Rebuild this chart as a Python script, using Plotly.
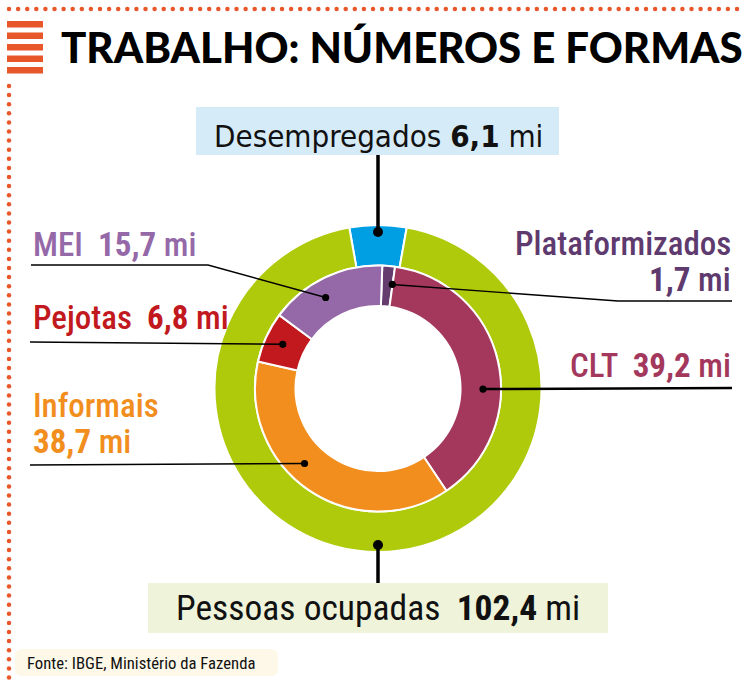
import math
import numpy as np
import plotly.graph_objects as go

# ---------------- data ----------------
outer_labels = ["Desempregados", "Pessoas ocupadas"]
outer_values = [6.1, 102.4]
outer_colors = ["#009FE3", "#AFCA0B"]

inner_labels = ["Plataformizados", "CLT", "Informais", "Pejotas", "MEI"]
inner_values = [1.7, 39.2, 38.7, 6.8, 15.7]
inner_colors = ["#643C6E", "#A3385C", "#F18E1E", "#C1191E", "#9569A8"]
inner_text_colors = ["#5E3A6E", "#A3385C", "#F18E1E", "#C1191E", "#9569A8"]

title_text = "TRABALHO: NÚMEROS E FORMAS"
source_text = "Fonte: IBGE, Ministério da Fazenda"
unit = "mi"

# ---------------- layout geometry (pixels) ----------------
W, H = 748, 682
CX, CY = 378, 388.5
R_OUT, R_MID, R_IN = 163.5, 123, 82.5
ORANGE = "#E8572A"
RC = "Roboto Condensed, DejaVu Sans Condensed, sans-serif"
DC = "DejaVu Sans Condensed, Roboto Condensed, sans-serif"


def fmt(v):
    return f"{v:.1f}".replace(".", ",")


def polar(r, ang):
    a = math.radians(ang)
    return CX + r * math.sin(a), CY - r * math.cos(a)


def dom(r):
    return dict(x=[(CX - r) / W, (CX + r) / W], y=[1 - (CY + r) / H, 1 - (CY - r) / H])


fig = go.Figure()

# outer ring: first slice centred at 12 o'clock
outer_rot = -outer_values[0] / sum(outer_values) * 360 / 2
fig.add_trace(go.Pie(
    values=outer_values, labels=outer_labels, sort=False, direction="clockwise",
    rotation=outer_rot, hole=R_MID / R_OUT, domain=dom(R_OUT),
    marker=dict(colors=outer_colors, line=dict(color="white", width=2)),
    textinfo="none", hoverinfo="label+value", showlegend=False))

fig.add_trace(go.Pie(
    values=inner_values, labels=inner_labels, sort=False, direction="clockwise",
    rotation=2, hole=R_IN / R_MID, domain=dom(R_MID),
    marker=dict(colors=inner_colors, line=dict(color="white", width=2)),
    textinfo="none", hoverinfo="label+value", showlegend=False))

shapes = []
annotations = []

# dotted orange frame
top_x = np.arange(9, 742, 9.1)
left_y = np.arange(86, 680, 9.1)
fig.add_trace(go.Scatter(x=top_x, y=[9] * len(top_x), mode="markers",
                         marker=dict(color=ORANGE, size=4.5, symbol="circle"),
                         hoverinfo="skip", showlegend=False))
fig.add_trace(go.Scatter(x=[9] * len(left_y), y=left_y, mode="markers",
                         marker=dict(color=ORANGE, size=4.5, symbol="circle"),
                         hoverinfo="skip", showlegend=False))

# title icon bars
for y0 in [21, 32.5, 44, 55.5, 67]:
    shapes.append(dict(type="rect", x0=7, x1=43, y0=y0, y1=y0 + 6.5,
                       fillcolor=ORANGE, line=dict(width=0), layer="above"))

annotations.append(dict(x=59, y=47, text=title_text, showarrow=False,
                        xanchor="left", yanchor="middle",
                        font=dict(family="Lato, DejaVu Sans", size=42, weight=900, color="#000")))

# boxes
shapes.append(dict(type="rect", x0=196, x1=559, y0=107, y1=155,
                   fillcolor="#D6EBF8", line=dict(width=0), layer="below"))
shapes.append(dict(type="rect", x0=148, x1=608, y0=583, y1=633,
                   fillcolor="#EEF3DA", line=dict(width=0), layer="below"))
shapes.append(dict(type="path",
                   path="M 22 649 L 271 649 Q 278 649 278 656 L 278 669 Q 278 676 271 676 "
                        "L 22 676 Q 15 676 15 669 L 15 656 Q 15 649 22 649 Z",
                   fillcolor="#FDF8E8", line=dict(width=0), layer="below"))

# outer labels
annotations.append(dict(x=CX, y=136, text=f"{outer_labels[0]} <b>{fmt(outer_values[0])}</b> {unit}",
                        showarrow=False, xanchor="center", yanchor="middle",
                        font=dict(family=DC, size=31, color="#111")))
annotations.append(dict(x=CX, y=607.5, text=f"{outer_labels[1]}  <b>{fmt(outer_values[1])}</b> {unit}",
                        showarrow=False, xanchor="center", yanchor="middle",
                        font=dict(family=RC, size=35.5, color="#111")))
annotations.append(dict(x=25, y=663, text=source_text, showarrow=False,
                        xanchor="left", yanchor="middle",
                        font=dict(family=RC, size=16.7, color="#111")))

# outer connectors (midpoints of outer slices)
cum = np.cumsum([0] + outer_values)
tot = sum(outer_values)
mid_o = [outer_rot + (cum[i] + cum[i + 1]) / 2 / tot * 360 for i in range(2)]
d_top = polar(156.5, mid_o[0])
d_bot = polar(156.5, mid_o[1])


def line_shape(pts, width):
    p = "M " + " L ".join(f"{x:.2f} {y:.2f}" for x, y in pts)
    return dict(type="path", path=p, line=dict(color="black", width=width), layer="above")


def dot_shape(pt, r):
    return dict(type="circle", x0=pt[0] - r, x1=pt[0] + r, y0=pt[1] - r, y1=pt[1] + r,
                fillcolor="black", line=dict(width=0), layer="above")


shapes.append(line_shape([(CX, 155), d_top], 3.5))
shapes.append(line_shape([d_bot, (CX, 583)], 3.5))
shapes.append(dot_shape(d_top, 5))
shapes.append(dot_shape(d_bot, 5))

# inner connectors
anchor_ang = {"Plataformizados": 7.8, "CLT": 90.3, "Informais": 224.4, "Pejotas": 294.9, "MEI": 330.1}
r_dot = 105
paths = {
    "Plataformizados": [(618, 301), (732, 301)],
    "CLT": [(732, 388)],
    "Informais": [(30, 465)],
    "Pejotas": [(30, 342)],
    "MEI": [(208, 265), (31, 265)],
}
widths = {"CLT": 2.4}
for lab in inner_labels:
    d = polar(r_dot, anchor_ang[lab])
    shapes.append(line_shape([d] + paths[lab], widths.get(lab, 1.4)))
    shapes.append(dot_shape(d, 3.6))

vals = dict(zip(inner_labels, inner_values))
cols = dict(zip(inner_labels, inner_text_colors))
LS = 33


def lab_ann(x, y, text, color, anchor):
    annotations.append(dict(x=x, y=y, text=text, showarrow=False, xanchor=anchor, yanchor="middle",
                            font=dict(family=RC, size=LS, color=color, weight=500)))


lab_ann(31, 244.5, f"MEI  <b>{fmt(vals['MEI'])}</b> {unit}", cols["MEI"], "left")
lab_ann(31, 317, f"Pejotas  <b>{fmt(vals['Pejotas'])}</b> {unit}", cols["Pejotas"], "left")
lab_ann(31, 405, "Informais", cols["Informais"], "left")
lab_ann(31, 441, f"<b>{fmt(vals['Informais'])}</b> {unit}", cols["Informais"], "left")
lab_ann(733, 243.5, "Plataformizados", cols["Plataformizados"], "right")
lab_ann(733, 279, f"<b>{fmt(vals['Plataformizados'])}</b> {unit}", cols["Plataformizados"], "right")
lab_ann(733, 365.5, f"CLT  <b>{fmt(vals['CLT'])}</b> {unit}", cols["CLT"], "right")

fig.update_layout(
    width=W, height=H, margin=dict(l=0, r=0, t=0, b=0),
    paper_bgcolor="white", plot_bgcolor="rgba(0,0,0,0)",
    xaxis=dict(range=[0, W], visible=False, fixedrange=True, domain=[0, 1]),
    yaxis=dict(range=[H, 0], visible=False, fixedrange=True, domain=[0, 1]),
    shapes=shapes, annotations=annotations, showlegend=False,
)

fig.write_html("out.html")
